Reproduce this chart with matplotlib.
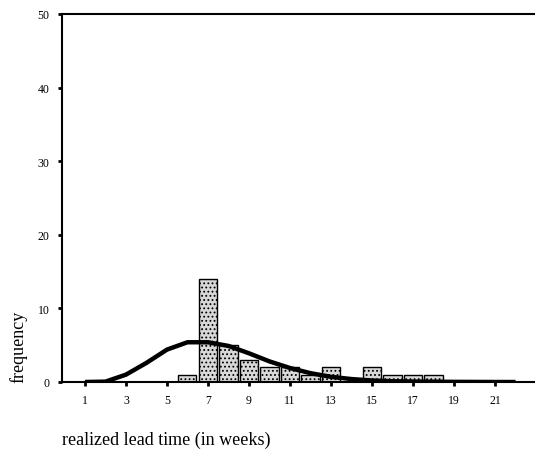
import matplotlib
matplotlib.use("Agg")
import matplotlib.pyplot as plt

# Data
bar_weeks = [6, 7, 8, 9, 10, 11, 12, 13, 15, 16, 17, 18]
bar_freq = [1, 14, 5, 3, 2, 2, 1, 2, 2, 1, 1, 1]

curve_weeks = list(range(1, 23))
curve_freq = [0, 0.05, 1.0, 2.6, 4.4, 5.4, 5.4, 4.9, 3.9, 2.8, 1.9, 1.2,
              0.7, 0.4, 0.2, 0.1, 0.06, 0.04, 0.02, 0.01, 0.0, 0.0]

xticks = [1, 3, 5, 7, 9, 11, 13, 15, 17, 19, 21]
yticks = [0, 10, 20, 30, 40, 50]
ytick_labels = ["0", "10", "20", "30", "40", "50"]

plt.rcParams['font.family'] = ['Liberation Serif', 'DejaVu Serif']
plt.rcParams['hatch.color'] = '#9a9a9a'
plt.rcParams['hatch.linewidth'] = 0.8

fig = plt.figure(figsize=(5.35, 4.52), dpi=100)
ax = fig.add_axes([62/535, 69/452, 1 - 62/535, (383 - 15)/452])

ax.bar(bar_weeks, bar_freq, width=0.88, facecolor='#d8d8d8', edgecolor='black',
       linewidth=1.0, hatch='....', zorder=2)
ax.plot(curve_weeks, curve_freq, color='black', linewidth=3.2, zorder=3,
        solid_capstyle='butt')

ax.set_xlim(-0.12, 22.95)
ax.set_ylim(0, 50)
ax.set_xticks(xticks)
ax.set_xticklabels([str(t) for t in xticks])
ax.set_yticks(yticks)
ax.set_yticklabels(ytick_labels)
ax.tick_params(axis='both', direction='out', length=3, width=2, labelsize=8.5,
               pad=6)
ax.spines['right'].set_visible(False)
for s in ['left', 'top', 'bottom']:
    ax.spines[s].set_linewidth(1.5)

fig.text(62/535, 1 - 440/452, 'realized lead time (in weeks)', fontsize=13,
         ha='left', va='center')
fig.text(18/535, 1 - 347/452, 'frequency', fontsize=13, rotation=90,
         ha='center', va='center')

fig.savefig('out.png', dpi=100)
